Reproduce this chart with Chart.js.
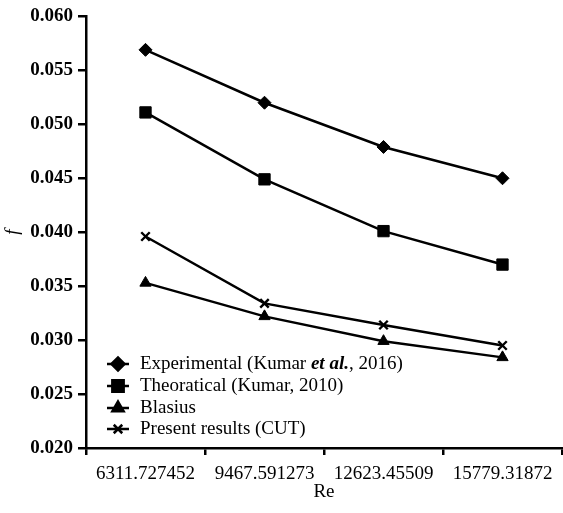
<!DOCTYPE html>
<html>
<head>
<meta charset="utf-8">
<script src="https://cdn.jsdelivr.net/npm/chart.js@4"></script>
<style>
  html, body { margin: 0; padding: 0; background: #fff; }
  #wrap { width: 563px; height: 513px; }
</style>
</head>
<body>
<div id="wrap"><canvas id="chart" width="563" height="513"></canvas></div>
<script>
const reLabels = ["6311.727452", "9467.591273", "12623.45509", "15779.31872"];
const experimental = [0.0569, 0.0520, 0.0479, 0.0450];
const theoretical = [0.0511, 0.0449, 0.0401, 0.0370];
const blasius = [0.0353, 0.0322, 0.0299, 0.0284];
const present = [0.0396, 0.0334, 0.0314, 0.0295];

const seriesNames = [
  "Experimental (Kumar et al., 2016)",
  "Theoratical (Kumar, 2010)",
  "Blasius",
  "Present results (CUT)"
];

const FONT = "'Liberation Serif', 'Times New Roman', serif";

const makeSet = (label, data, style, radius) => ({
  label: label,
  data: data,
  borderColor: "#000",
  backgroundColor: "#000",
  borderWidth: 2.5,
  pointStyle: style,
  pointRadius: radius,
  pointHoverRadius: radius,
  pointBorderWidth: style === "crossRot" ? 2.4 : 1,
  pointBackgroundColor: "#000",
  pointBorderColor: "#000",
  tension: 0,
  fill: false
});

// legend drawn inside the plot, bottom-left, line + marker like the original
const innerLegend = {
  id: "innerLegend",
  afterDraw(chart) {
    const ctx = chart.ctx;
    const rows = [364, 386, 408, 429];
    ctx.save();
    chart.data.datasets.forEach((ds, i) => {
      const y = rows[i];
      ctx.strokeStyle = "#000";
      ctx.lineWidth = 2.5;
      ctx.beginPath();
      ctx.moveTo(107, y);
      ctx.lineTo(129, y);
      ctx.stroke();
      ctx.fillStyle = "#000";
      Chart.helpers.drawPoint(ctx, {
        pointStyle: ds.pointStyle,
        radius: ds.pointRadius,
        borderWidth: ds.pointBorderWidth,
        rotation: 0
      }, 118, y);
      ctx.textBaseline = "middle";
      ctx.textAlign = "left";
      if (i === 0) {
        // "et al." is italic in the original
        const parts = [["Experimental (Kumar ", ""], ["et al.", "italic bold "], [", 2016)", ""]];
        let x = 140;
        parts.forEach(p => {
          ctx.font = p[1] + "19px " + FONT;
          ctx.fillText(p[0], x, y);
          x += ctx.measureText(p[0]).width;
        });
      } else {
        ctx.font = "19px " + FONT;
        ctx.fillText(ds.label, 140, y);
      }
    });
    ctx.restore();
  }
};

const ctx = document.getElementById("chart").getContext("2d");
new Chart(ctx, {
  type: "line",
  data: {
    labels: reLabels,
    datasets: [
      makeSet(seriesNames[0], experimental, "rectRot", 6.5),
      makeSet(seriesNames[1], theoretical, "rect", 8),
      makeSet(seriesNames[2], blasius, "triangle", 6.5),
      makeSet(seriesNames[3], present, "crossRot", 6)
    ]
  },
  options: {
    responsive: false,
    animation: false,
    devicePixelRatio: 1,
    layout: { autoPadding: false, padding: { top: 15, right: 1, left: 0, bottom: 0 } },
    plugins: {
      legend: { display: false },
      tooltip: { enabled: false }
    },
    scales: {
      x: {
        offset: true,
        grid: {
          offset: true,
          drawOnChartArea: false,
          drawTicks: true,
          tickLength: 7,
          color: "#000",
          lineWidth: 2.5
        },
        border: { display: true, color: "#000", width: 2.5 },
        ticks: {
          color: "#000",
          font: { family: FONT, size: 19 },
          maxRotation: 0,
          autoSkip: false,
          padding: 8
        },
        title: {
          display: true,
          text: "Re",
          color: "#000",
          font: { family: FONT, size: 19 },
          padding: { top: 0, bottom: 10 }
        },
        afterFit(scale) {
          scale.height = 65;
        }
      },
      y: {
        min: 0.020,
        max: 0.060,
        grid: {
          drawOnChartArea: false,
          drawTicks: true,
          tickLength: 8,
          color: "#000",
          lineWidth: 2.5
        },
        border: { display: true, color: "#000", width: 2.5 },
        ticks: {
          stepSize: 0.005,
          color: "#000",
          font: { family: FONT, size: 19, weight: "bold" },
          padding: 5,
          callback: v => v.toFixed(3)
        },
        title: {
          display: true,
          text: "f",
          color: "#000",
          font: { family: FONT, size: 19, style: "italic" },
          padding: { top: 2, bottom: 0 }
        },
        afterFit(scale) { scale.width = 86; }
      }
    }
  },
  plugins: [innerLegend]
});
</script>
</body>
</html>
